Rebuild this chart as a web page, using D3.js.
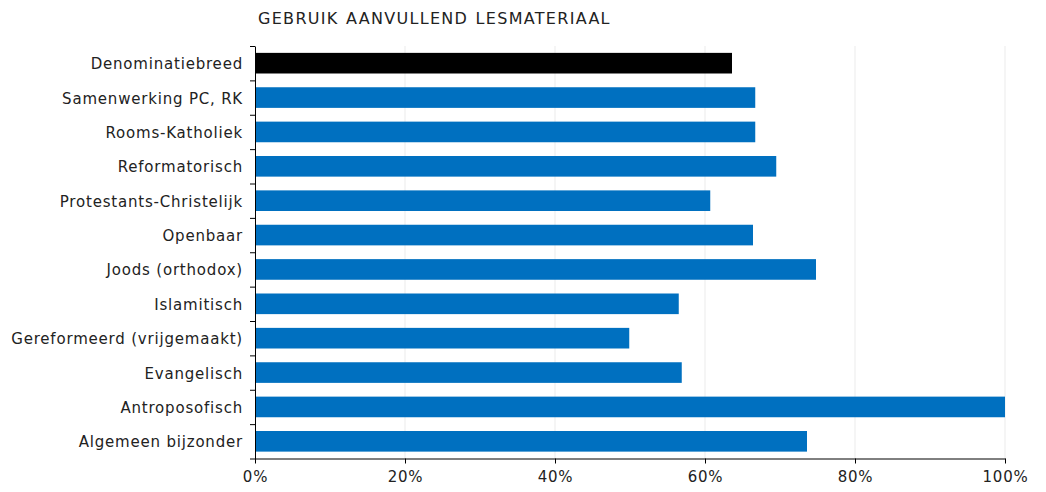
<!DOCTYPE html>
<html>
<head>
<meta charset="utf-8">
<script src="https://cdn.jsdelivr.net/npm/d3@7"></script>
<style>
  body { margin: 0; background: #fff; }
  .canvas text { font-family: "DejaVu Sans", Verdana, sans-serif; }
</style>
</head>
<body>
<div class="canvas"></div>
<script>
// Data
const categories = [
  "Denominatiebreed", "Samenwerking PC, RK", "Rooms-Katholiek", "Reformatorisch",
  "Protestants-Christelijk", "Openbaar", "Joods (orthodox)", "Islamitisch",
  "Gereformeerd (vrijgemaakt)", "Evangelisch", "Antroposofisch", "Algemeen bijzonder"
];
const values = [63.6, 66.7, 66.7, 69.5, 60.7, 66.4, 74.8, 56.5, 49.9, 56.9, 100, 73.6];
const xTicks = [0, 20, 40, 60, 80, 100];
const title = "GEBRUIK AANVULLEND LESMATERIAAL";

// Dimensions
const margin = { top: 46, right: 41, bottom: 33.5, left: 255 };
const width = 1046 - margin.left - margin.right;
const height = 492 - margin.top - margin.bottom;

const x = d3.scaleLinear().domain([0, 100]).range([0, width]);
const y = d3.scaleBand().domain(categories).range([0, height]).paddingInner(0.4).paddingOuter(0.2);

const svg = d3.select(".canvas")
  .append("svg")
    .attr("width", 1046)
    .attr("height", 492)
  .append("g")
    .attr("transform", `translate(${margin.left}, ${margin.top})`);

// title
svg.append("text")
  .attr("x", 3)
  .attr("y", -22)
  .style("font-size", "16px")
  .style("letter-spacing", "1.3px")
  .style("word-spacing", "1px")
  .style("fill", "#222")
  .text(title);

// vertical gridlines
svg.selectAll(".xGrid")
  .data(xTicks.slice(1))
  .join("line")
  .attr("x1", d => x(d))
  .attr("x2", d => x(d))
  .attr("y1", 0)
  .attr("y2", height)
  .attr("stroke", "#ebebeb")
  .attr("stroke-width", 1);

// bars
svg.selectAll(".bar")
  .data(categories)
  .join("rect")
  .attr("x", 0)
  .attr("y", d => y(d))
  .attr("width", (d, i) => x(values[i]))
  .attr("height", y.bandwidth())
  .attr("fill", (d, i) => i === 0 ? "#000000" : "#0070C0");

// x-axis
svg.append("g")
  .attr("transform", `translate(0,${height})`)
  .style("font-size", "15px")
  .call(d3.axisBottom(x)
    .tickValues(xTicks)
    .tickFormat(d => `${d}%`)
    .tickSize(5)
    .tickSizeOuter(0)
    .tickPadding(8))
  .call(g => g.selectAll(".tick text").attr("fill", "#222").style("letter-spacing", "0.8px"));

// y-axis: boundary ticks
const yEdges = d3.scaleLinear().domain([0, categories.length]).range([0, height]);
svg.append("g")
  .call(d3.axisLeft(yEdges)
    .tickValues(d3.range(categories.length + 1))
    .tickFormat("")
    .tickSize(5)
    .tickSizeOuter(0));

// y-axis labels
svg.append("g")
  .style("font-size", "15px")
  .call(d3.axisLeft(y).tickSize(0).tickPadding(12))
  .call(g => g.select(".domain").remove())
  .selectAll(".tick text")
  .attr("fill", "#222")
  .style("letter-spacing", "0.8px")
  .attr("dy", "0.4em");
</script>
</body>
</html>
